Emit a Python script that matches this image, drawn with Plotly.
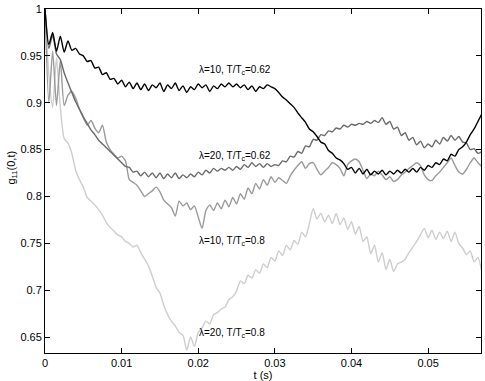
import numpy as np
import plotly.graph_objects as go

# time grid (s), 0.5 ms sampling
t = np.round(np.arange(0, 0.05751, 0.0005), 4)

# lambda=10, T/Tc=0.62 (black)
g_l10_062 = [
    1.000, 0.962, 0.975, 0.955, 0.971, 0.954, 0.966, 0.956, 0.958, 0.952,
    0.950, 0.944, 0.945, 0.937, 0.938, 0.930, 0.932, 0.925, 0.926, 0.920,
    0.924, 0.917, 0.922, 0.915, 0.921, 0.914, 0.920, 0.913, 0.919, 0.916,
    0.921, 0.912, 0.919, 0.915, 0.921, 0.913, 0.918, 0.911, 0.917, 0.914,
    0.920, 0.916, 0.919, 0.912, 0.918, 0.915, 0.920, 0.917, 0.921, 0.917,
    0.920, 0.916, 0.919, 0.914, 0.918, 0.912, 0.917, 0.915, 0.919, 0.917,
    0.915, 0.911, 0.906, 0.903, 0.899, 0.895, 0.889, 0.884, 0.879, 0.872,
    0.869, 0.864, 0.858, 0.856, 0.849, 0.846, 0.841, 0.839, 0.835, 0.829,
    0.831, 0.825, 0.830, 0.824, 0.829, 0.823, 0.827, 0.824, 0.828, 0.823,
    0.827, 0.824, 0.828, 0.825, 0.829, 0.826, 0.830, 0.826, 0.831, 0.828,
    0.833, 0.831, 0.836, 0.834, 0.840, 0.838, 0.845, 0.843, 0.850, 0.853,
    0.858, 0.866, 0.872, 0.880, 0.888,
]

# lambda=20, T/Tc=0.62 (dark grey)
g_l20_062 = [
    1.000, 0.958, 0.972, 0.952, 0.946, 0.932, 0.921, 0.911, 0.901, 0.893,
    0.885, 0.878, 0.871, 0.866, 0.860, 0.856, 0.852, 0.848, 0.844, 0.840,
    0.836, 0.832, 0.831, 0.826, 0.827, 0.822, 0.826, 0.821, 0.825, 0.820,
    0.825, 0.819, 0.824, 0.820, 0.825, 0.819, 0.823, 0.820, 0.824, 0.821,
    0.826, 0.823, 0.828, 0.825, 0.830, 0.827, 0.830, 0.828, 0.831, 0.828,
    0.832, 0.829, 0.834, 0.831, 0.836, 0.832, 0.835, 0.831, 0.835, 0.832,
    0.834, 0.833, 0.838, 0.837, 0.843, 0.842, 0.848, 0.846, 0.854, 0.853,
    0.861, 0.860, 0.866, 0.865, 0.870, 0.869, 0.873, 0.872, 0.876, 0.874,
    0.877, 0.876, 0.878, 0.877, 0.880, 0.878, 0.881, 0.879, 0.884, 0.877,
    0.880, 0.872, 0.874, 0.865, 0.868, 0.860, 0.863, 0.855, 0.859, 0.852,
    0.856, 0.853, 0.860, 0.856, 0.863, 0.859, 0.865, 0.860, 0.864, 0.858,
    0.857, 0.850, 0.851, 0.846, 0.848,
]

# lambda=10, T/Tc=0.8 (mid grey)
g_l10_08 = [
    1.000, 0.900, 0.955, 0.897, 0.945, 0.897, 0.908, 0.912, 0.905, 0.893,
    0.884, 0.876, 0.881, 0.873, 0.868, 0.876, 0.858, 0.850, 0.845, 0.841,
    0.843, 0.838, 0.818, 0.815, 0.812, 0.806, 0.800, 0.803, 0.806, 0.810,
    0.805, 0.796, 0.792, 0.788, 0.779, 0.795, 0.790, 0.793, 0.786, 0.790,
    0.778, 0.766, 0.785, 0.791, 0.785, 0.793, 0.787, 0.796, 0.789, 0.799,
    0.792, 0.803, 0.797, 0.809, 0.803, 0.814, 0.808, 0.818, 0.812, 0.821,
    0.815, 0.820, 0.817, 0.814, 0.822, 0.828, 0.833, 0.837, 0.830, 0.835,
    0.836, 0.829, 0.823, 0.827, 0.831, 0.836, 0.834, 0.830, 0.822, 0.834,
    0.838, 0.840, 0.837, 0.828, 0.819, 0.824, 0.822, 0.827, 0.823, 0.818,
    0.821, 0.816, 0.818, 0.823, 0.826, 0.830, 0.833, 0.836, 0.833, 0.823,
    0.818, 0.817, 0.822, 0.826, 0.831, 0.836, 0.841, 0.833, 0.826, 0.824,
    0.829, 0.836, 0.841, 0.836, 0.832,
]

# lambda=20, T/Tc=0.8 (light grey)
g_l20_08 = [
    1.000, 0.930, 0.895, 0.948, 0.895, 0.862, 0.857, 0.846, 0.828, 0.818,
    0.810, 0.799, 0.795, 0.791, 0.786, 0.780, 0.772, 0.767, 0.763, 0.759,
    0.757, 0.752, 0.750, 0.746, 0.748, 0.740, 0.733, 0.726, 0.715, 0.703,
    0.697, 0.684, 0.674, 0.667, 0.662, 0.655, 0.652, 0.636, 0.650, 0.640,
    0.655, 0.660, 0.667, 0.664, 0.674, 0.676, 0.680, 0.682, 0.690, 0.693,
    0.699, 0.710, 0.707, 0.716, 0.713, 0.722, 0.718, 0.728, 0.724, 0.735,
    0.731, 0.742, 0.737, 0.748, 0.743, 0.753, 0.749, 0.762, 0.757, 0.771,
    0.787, 0.776, 0.782, 0.773, 0.780, 0.771, 0.782, 0.770, 0.777, 0.765,
    0.773, 0.760, 0.768, 0.752, 0.757, 0.739, 0.748, 0.730, 0.740, 0.722,
    0.733, 0.720, 0.728, 0.730, 0.733, 0.740, 0.746, 0.752, 0.759, 0.766,
    0.756, 0.764, 0.754, 0.762, 0.755, 0.763, 0.752, 0.762, 0.750, 0.745,
    0.738, 0.742, 0.730, 0.735, 0.720,
]

series = [
    (g_l10_062, "#000000"),
    (g_l20_062, "#6a6a6a"),
    (g_l10_08, "#9a9a9a"),
    (g_l20_08, "#cdcdcd"),
]

labels = [
    ("λ=10, T/T<sub>c</sub>=0.62", 0.935),
    ("λ=20, T/T<sub>c</sub>=0.62", 0.843),
    ("λ=10, T/T<sub>c</sub>=0.8", 0.752),
    ("λ=20, T/T<sub>c</sub>=0.8", 0.654),
]

fig = go.Figure()

# draw lightest first so the black curve sits on top
for vals, col in reversed(series):
    fig.add_trace(go.Scatter(x=t, y=vals, mode='lines',
                             line=dict(color=col, width=1.4, shape='spline', smoothing=0.6),
                             showlegend=False, hoverinfo='skip'))

for txt, yv in labels:
    fig.add_annotation(x=0.0198, y=yv, text=txt, showarrow=False,
                       xanchor='left', yanchor='middle',
                       font=dict(size=10, color='black'))

# y label sits a bit above the axis middle, as in the original matlab figure
fig.add_annotation(x=-0.075, y=0.54, xref='paper', yref='paper',
                   text='g<sub>11</sub>(0,t)', textangle=-90, showarrow=False,
                   xanchor='center', yanchor='middle', font=dict(size=11, color='black'))

axis_style = dict(showline=True, linecolor='black', linewidth=1, mirror='allticks',
                  ticks='inside', ticklen=5, tickcolor='black', showgrid=False,
                  zeroline=False, automargin=False, tickfont=dict(size=11, color='black'))

fig.update_xaxes(range=[0, 0.0569], tickvals=[0, 0.01, 0.02, 0.03, 0.04, 0.05],
                 ticktext=['0', '0.01', '0.02', '0.03', '0.04', '0.05'],
                 title=dict(text='t (s)', font=dict(size=11), standoff=2), **axis_style)
fig.update_yaxes(range=[0.633, 1.0], tickvals=[0.65, 0.7, 0.75, 0.8, 0.85, 0.9, 0.95, 1.0],
                 ticktext=['0.65', '0.7', '0.75', '0.8', '0.85', '0.9', '0.95', '1'],
                 **axis_style)

fig.update_layout(width=485, height=381,
                  margin=dict(l=45, r=4, t=9, b=28),
                  paper_bgcolor='white', plot_bgcolor='white',
                  font=dict(family='Liberation Sans, Arial, sans-serif', color='black'))

# page body has a default 8px margin; drop it so the figure sits at the top-left corner
fig.write_html("out.html", config={'displayModeBar': False},
               post_script="document.body.style.margin='0';")
